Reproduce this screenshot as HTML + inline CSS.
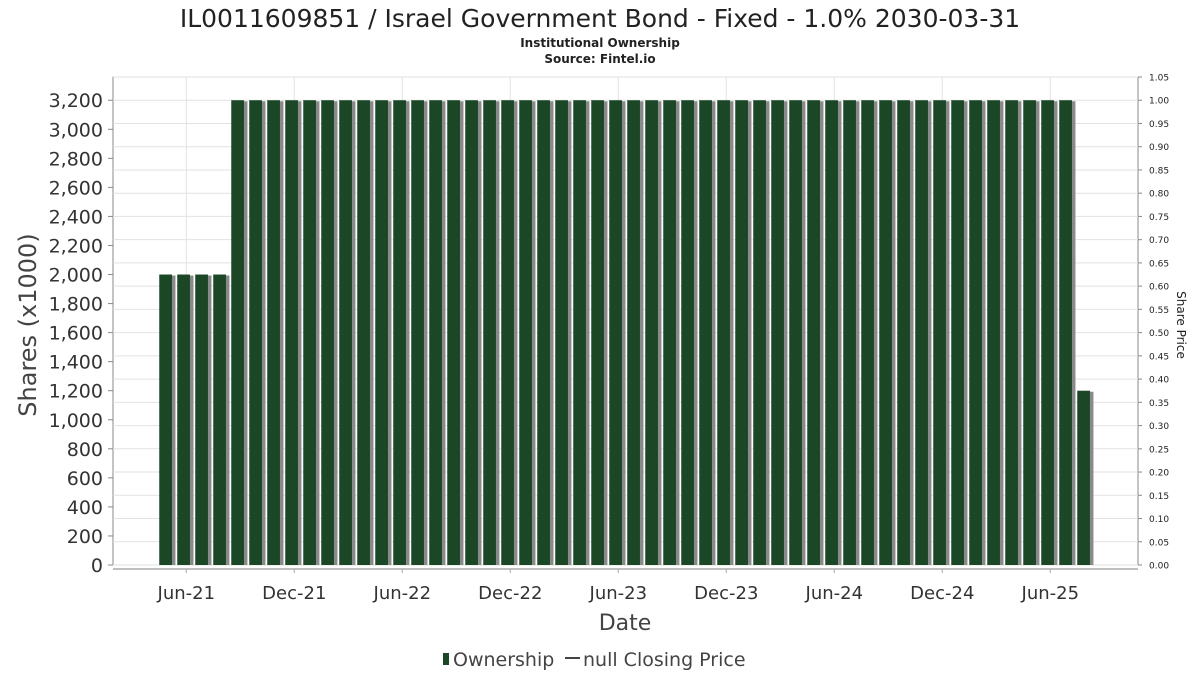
<!DOCTYPE html>
<html><head><meta charset="utf-8"><style>
html,body{margin:0;padding:0;background:#fff;}
svg{display:block;font-family:"DejaVu Sans","Liberation Sans",sans-serif;}
</style></head><body>
<svg id="chart" width="1200" height="675" viewBox="0 0 1200 675">
<text x="600" y="27" text-anchor="middle" font-size="25" fill="#222">IL0011609851 / Israel Government Bond - Fixed - 1.0% 2030-03-31</text>
<text x="600" y="47" text-anchor="middle" font-size="12" font-weight="bold" fill="#222">Institutional Ownership</text>
<text x="600" y="63" text-anchor="middle" font-size="12" font-weight="bold" fill="#222">Source: Fintel.io</text>
<rect x="113" y="77" width="1025" height="488" fill="#fff" stroke="#888" stroke-width="1"/>
<g id="grid"></g>
<g id="bars"></g>
<line x1="113" y1="569" x2="1138" y2="569" stroke="#aaa" stroke-width="1.5"/>
<g id="yticks"></g>
<g id="rticks"></g>
<g id="xticks"></g>
<text transform="translate(36,325) rotate(-90)" text-anchor="middle" font-size="24" fill="#444">Shares (x1000)</text>
<text transform="translate(1177,325) rotate(90)" text-anchor="middle" font-size="12" fill="#222">Share Price</text>
<text x="625" y="630" text-anchor="middle" font-size="22" fill="#444">Date</text>
<g>
<rect x="443" y="653" width="6" height="12" fill="#1b4726"/>
<text x="453" y="666" font-size="19" fill="#444">Ownership</text>
<line x1="565" y1="658" x2="580" y2="658" stroke="#444" stroke-width="2"/>
<text x="583" y="666" font-size="19" fill="#444">null Closing Price</text>
</g>
</svg>
<script>
const ownershipValues = [2000,2000,2000,2000,
3200,3200,3200,3200,3200,3200,3200,3200,3200,3200,3200,3200,3200,3200,3200,3200,3200,3200,3200,3200,
3200,3200,3200,3200,3200,3200,3200,3200,3200,3200,3200,3200,3200,3200,3200,3200,3200,3200,3200,3200,
3200,3200,3200,3200,3200,3200,3200,
1200];
const firstBarMonth = 3.85; // months since Jan 2021
const leftTicks = [0,200,400,600,800,1000,1200,1400,1600,1800,2000,2200,2400,2600,2800,3000,3200];
const rightTicks = ["0.00","0.05","0.10","0.15","0.20","0.25","0.30","0.35","0.40","0.45","0.50","0.55","0.60","0.65","0.70","0.75","0.80","0.85","0.90","0.95","1.00","1.05"];
const xTickLabels = ["Jun-21","Dec-21","Jun-22","Dec-22","Jun-23","Dec-23","Jun-24","Dec-24","Jun-25"];
const xTickMonths = [5,11,17,23,29,35,41,47,53];

const NS="http://www.w3.org/2000/svg";
const yMax=3360, plotTop=77, plotBottom=565;
function y(v){return plotBottom-(v/yMax)*(plotBottom-plotTop);}
function yR(p){return plotBottom-(p/1.05)*(plotBottom-plotTop);}
function x(m){return 186.3+(m-5)*18.0;}
function mk(tag,attrs,parent){const e=document.createElementNS(NS,tag);for(const k in attrs)e.setAttribute(k,attrs[k]);parent.appendChild(e);return e;}
const grid=document.getElementById('grid'),bars=document.getElementById('bars'),yt=document.getElementById('yticks'),rt=document.getElementById('rticks'),xt=document.getElementById('xticks');

rightTicks.forEach(t=>{const yy=yR(parseFloat(t));
 const g=mk('line',{x1:113,x2:1138,y1:yy,y2:yy,stroke:'#e2e2e2','stroke-width':1},grid);
 
 
 const tk=mk('line',{x1:1138,x2:1142,y1:yy,y2:yy,stroke:'#888'},rt);
 
 
 const tx=mk('text',{x:1149,y:yy+3.5,'font-size':9,fill:'#222'},rt);
 tx.textContent=t;
 
 
});
xTickMonths.forEach((m,i)=>{const xx=x(m);
 const g=mk('line',{x1:xx,x2:xx,y1:77,y2:565,stroke:'#e2e2e2','stroke-width':1},grid);
 
 
 const tk=mk('line',{x1:xx,x2:xx,y1:569,y2:573,stroke:'#aaa'},xt);
 
 
 const tx=mk('text',{x:xx,y:599,'text-anchor':'middle','font-size':18,fill:'#333'},xt);
 tx.textContent=xTickLabels[i];
 
 
});
leftTicks.forEach(v=>{const yy=y(v);
 const tx=mk('text',{x:103,y:yy+7,'text-anchor':'end','font-size':19,fill:'#333'},yt);
 tx.textContent=v.toLocaleString('en-US');
 
 
 const tk=mk('line',{x1:108,x2:113,y1:yy,y2:yy,stroke:'#888'},yt);
 
 
});
ownershipValues.forEach((v,i)=>{const cx=x(firstBarMonth+i),w=12.7,top=y(v);
 const s=mk('rect',{x:cx-w/2+3.5,y:top+1,width:w,height:plotBottom-top-1,fill:'#8a8a8a'},bars);
 
 
 const b=mk('rect',{x:cx-w/2,y:top,width:w,height:plotBottom-top,fill:'#1b4726'},bars);
 
 
});
</script>
</body></html>
